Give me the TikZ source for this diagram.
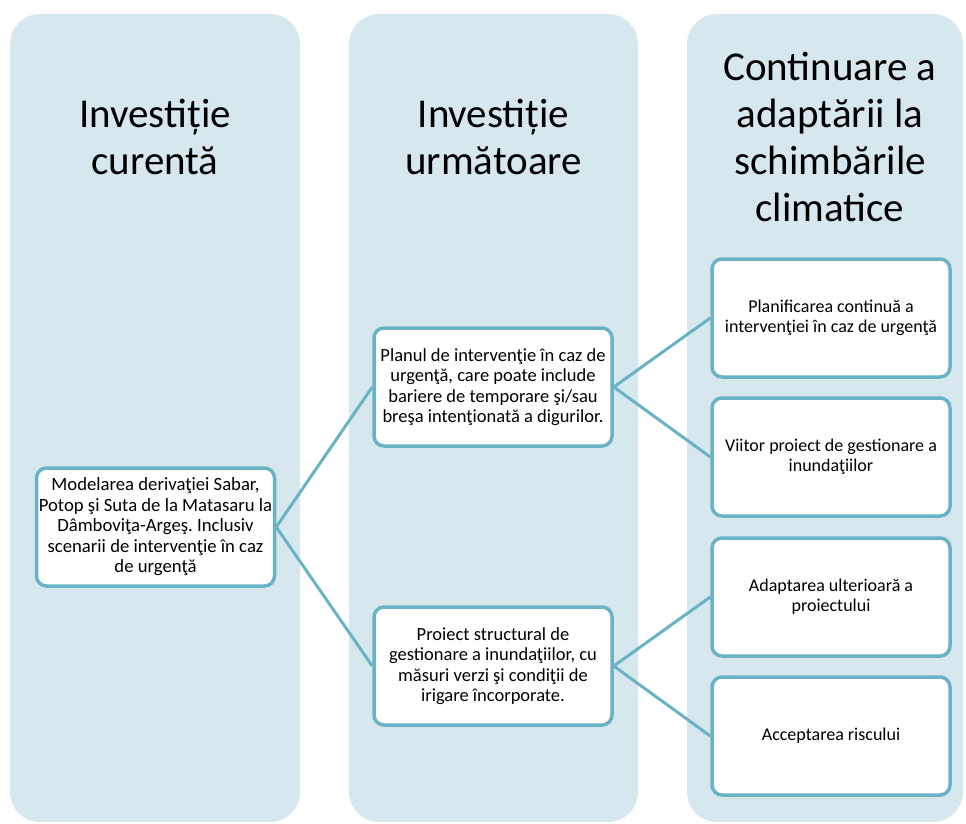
\documentclass[tikz,border=0pt]{standalone}
\usepackage{fontspec}
\setmainfont{Carlito}
\frenchspacing
\definecolor{colbg}{HTML}{D6E8EE}
\definecolor{boxline}{HTML}{6AB2C5}
\begin{document}
\begin{tikzpicture}[x=1pt,y=-1pt,
  colbox/.style={fill=colbg, draw=none, rounded corners=30pt},
  title/.style={font=\fontsize{41}{47}\selectfont, align=center, text=black, inner sep=0pt},
  box/.style={draw=boxline, line width=3.5pt, fill=white, rounded corners=10pt, align=center,
    font=\fontsize{18}{20}\selectfont, inner sep=0pt, minimum width=238pt, minimum height=118pt},
  boxl/.style={box, font=\fontsize{18.7}{20.5}\selectfont},
  boxm/.style={box, font=\fontsize{18.5}{20.5}\selectfont},
  link/.style={draw=boxline, line width=3pt}]
\useasboundingbox (0,0) rectangle (966,823);
\fill[colbox] (10,14) rectangle (300,822);
\fill[colbox] (349,14) rectangle (638,822);
\fill[colbox] (687,14) rectangle (963,822);
\node[title] (t1) at (155,137) {Investiție\\curentă};
\node[title] (t2) at (493.5,137) {Investiție\\următoare};
\node[title] (t3) at (830,137) {Continuare a\\adaptării la\\schimbările\\climatice};
\node[boxl] (A) at (155.5,527) {Modelarea derivaţiei Sabar,\\Potop şi Suta de la Matasaru la\\Dâmboviţa-Argeş. Inclusiv\\scenarii de intervenţie în caz\\de urgenţă};
\node[boxm] (B) at (493,387) {Planul de intervenţie în caz de\\urgenţă, care poate include\\bariere de temporare şi/sau\\breşa intenţionată a digurilor.};
\node[boxm] (C) at (493,666) {Proiect structural de\\gestionare a inundaţiilor, cu\\măsuri verzi şi condiţii de\\irigare încorporate.};
\node[box] (D) at (831,318) {Planificarea continuă a\\intervenţiei în caz de urgenţă};
\node[box] (E) at (831,457) {Viitor proiect de gestionare a\\inundaţiilor};
\node[box] (F) at (831,597) {Adaptarea ulterioară a\\proiectului};
\node[box] (G) at (831,736) {Acceptarea riscului};
\draw[link] (A.east) -- (B.west);
\draw[link] (A.east) -- (C.west);
\draw[link] (B.east) -- (D.west);
\draw[link] (B.east) -- (E.west);
\draw[link] (C.east) -- (F.west);
\draw[link] (C.east) -- (G.west);
\end{tikzpicture}
\end{document}
